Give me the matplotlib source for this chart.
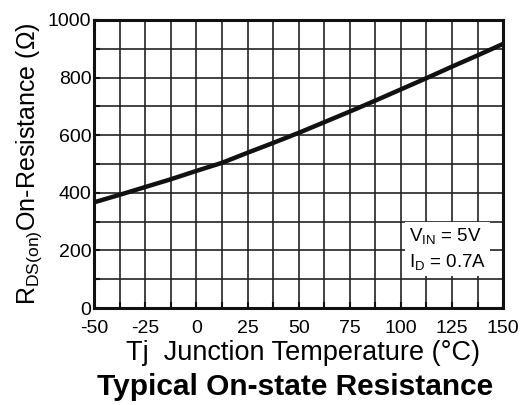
import matplotlib
matplotlib.use("Agg")
import matplotlib.pyplot as plt
import numpy as np

plt.rcParams['font.family'] = ['Liberation Sans', 'DejaVu Sans']
plt.rcParams['mathtext.fontset'] = 'custom'
plt.rcParams['mathtext.rm'] = 'Liberation Sans'
plt.rcParams['mathtext.it'] = 'Liberation Sans'
plt.rcParams['axes.unicode_minus'] = False

temp = [-50, -37.5, -25, -12.5, 0, 12.5, 25, 37.5, 50, 62.5, 75, 87.5, 100, 112.5, 125, 137.5, 150]
rds = [367, 393, 420, 447, 476, 504, 539, 573, 608, 645, 682, 720, 759, 798, 838, 877, 917]
xticks = [-50, -25, 0, 25, 50, 75, 100, 125, 150]
yticks = [0, 200, 400, 600, 800, 1000]

fig = plt.figure(figsize=(5.23, 4.05), dpi=100)
ax = fig.add_axes([0.180, 0.2395, 0.782, 0.7112])

ax.set_xlim(-50, 150)
ax.set_ylim(0, 1000)
ax.set_xticks(xticks)
ax.set_yticks(yticks)
ax.set_xticks(np.arange(-50, 151, 12.5), minor=True)
ax.set_yticks(np.arange(0, 1001, 100), minor=True)
ax.grid(which='both', color='#222222', linewidth=1.2)
ax.set_axisbelow(True)
ax.tick_params(which='both', direction='in', length=4, width=1.5, color='#111111')
ax.tick_params(axis='both', labelsize=14)
ax.tick_params(axis='x', pad=8.5)
ax.tick_params(axis='y', pad=2)
for s in ax.spines.values():
    s.set_linewidth(2.2)
    s.set_color('#111111')

ax.plot(temp, rds, color='#111111', linewidth=3.2, solid_capstyle='butt')

ax.text(0.77, 0.205, "V$_{\\rm IN}$ = 5V\nI$_{\\rm D}$ = 0.7A", transform=ax.transAxes,
        fontsize=13.5, ha='left', va='center', linespacing=1.4,
        bbox=dict(facecolor='white', edgecolor='none', pad=3))

ax.set_ylabel("R$_{\\rm DS(on)}$On-Resistance (Ω)", fontsize=18, labelpad=3)
fig.text(0.58, 0.128, "Tj  Junction Temperature (°C)", fontsize=19.5, ha='center', va='center')
fig.text(0.564, 0.044, "Typical On-state Resistance", fontsize=21.5, fontweight='bold',
         ha='center', va='center')

fig.savefig("out.png", dpi=100)
